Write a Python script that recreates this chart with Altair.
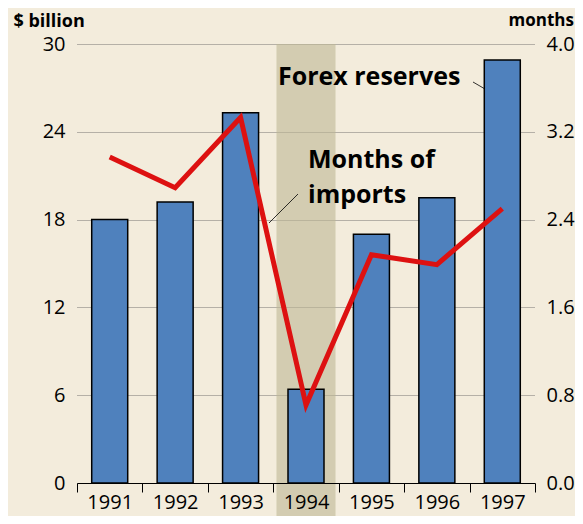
import altair as alt
import pandas as pd

years = ["1991", "1992", "1993", "1994", "1995", "1996", "1997"]
reserves = [18.0, 19.2, 25.3, 6.4, 17.0, 19.5, 28.9]
months = [2.97, 2.69, 3.33, 0.71, 2.08, 1.99, 2.50]
highlight_year = ["1994"]
left_ticks = [0, 6, 12, 18, 24, 30]
right_ticks = [0.0, 0.8, 1.6, 2.4, 3.2, 4.0]

df = pd.DataFrame({"year": years, "reserves": reserves, "months": months})
hl = pd.DataFrame({"year": highlight_year})

FONT = "Open Sans"
W, H = 458, 439

xenc = alt.X("year:N", sort=years, scale=alt.Scale(paddingInner=0, paddingOuter=0),
             axis=alt.Axis(title=None, labelAngle=0, labelFontSize=20, labelFont=FONT,
                           labelColor="black", domainColor="black", tickColor="black",
                           tickBand="extent", labelAlign="center",
                           tickSize=9, labelPadding=10, grid=False, zindex=1))

band = alt.Chart(hl).mark_bar(size=59, color="#BEB894", opacity=0.6).encode(
    x=alt.X("year:N", sort=years), y=alt.value(0), y2=alt.value(472)
)

bars = alt.Chart(df).mark_bar(size=36, color="#4F81BD", stroke="black", strokeWidth=1.5).encode(
    x=xenc,
    y=alt.Y("reserves:Q", scale=alt.Scale(domain=[0, 30], nice=False),
            axis=alt.Axis(values=left_ticks, title="$ billion", titleAngle=0, titleX=-64,
                          titleY=-18, titleAlign="left", titleBaseline="alphabetic",
                          titleFont=FONT, titleFontSize=18, titleFontWeight="bold",
                          titleColor="black", labelFont=FONT, labelFontSize=20,
                          labelColor="black", labelPadding=12, ticks=False, domain=False,
                          grid=True, gridColor="#555555", gridDash=[1, 1], gridWidth=0.8)),
)

line = alt.Chart(df).mark_line(color="#DD1111", strokeWidth=5).encode(
    x=alt.X("year:N", sort=years),
    y=alt.Y("months:Q", scale=alt.Scale(domain=[0, 4], nice=False),
            axis=alt.Axis(orient="right", values=right_ticks, format=".1f", title="months",
                          titleAngle=0, titleX=-27, titleY=-19, titleAlign="left",
                          titleBaseline="alphabetic", titleFont=FONT, titleFontSize=17,
                          titleFontWeight="bold", titleColor="black", labelFont=FONT,
                          labelFontSize=20, labelColor="black", labelPadding=11,
                          ticks=False, domain=False, grid=False)),
)

ann_df = pd.DataFrame({"t": ["Forex reserves", "Months of", "imports"],
                       "x": [201, 231, 231], "y": [41, 124, 159]})
ann = alt.Chart(ann_df).mark_text(font=FONT, fontSize=25, fontWeight="bold", color="black",
                                  align="left", baseline="alphabetic").encode(
    x=alt.X("x:Q", scale=None), y=alt.Y("y:Q", scale=None), text="t:N"
)

lead = pd.DataFrame({"x": [396, 221], "x2": [408, 192], "y": [38, 150], "y2": [45, 179]})
leads = alt.Chart(lead).mark_rule(color="black", strokeWidth=0.8).encode(
    x=alt.X("x:Q", scale=None), x2="x2:Q", y=alt.Y("y:Q", scale=None), y2="y2:Q"
)

chart = alt.layer(band, bars, line, ann, leads).resolve_scale(y="independent").properties(
    width=W, height=H,
    autosize=alt.AutoSizeParams(type="none"),
    padding={"left": 69, "top": 36, "right": 40, "bottom": 33},
    background="#F3ECDC",
).configure_view(stroke=None)

chart.save("out.html", embed_options={"renderer": "svg", "actions": False})
